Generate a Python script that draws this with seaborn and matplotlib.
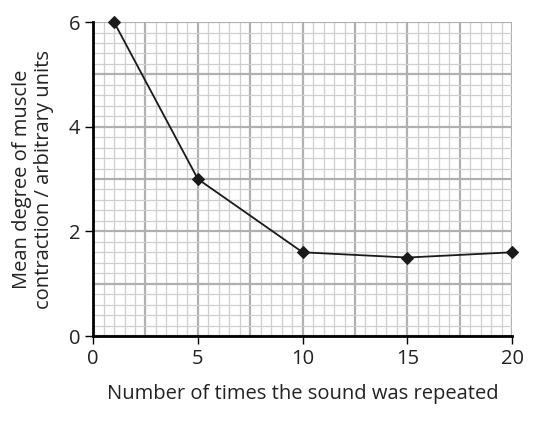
import matplotlib
matplotlib.use("Agg")
import matplotlib.pyplot as plt
import numpy as np
import pandas as pd
import seaborn as sns
from matplotlib.ticker import MultipleLocator

# Data
repeats = [1, 5, 10, 15, 20]
contraction = [6.0, 3.0, 1.6, 1.5, 1.6]
x_ticks = [0, 5, 10, 15, 20]
y_ticks = [0, 2, 4, 6]

df = pd.DataFrame({"repeats": repeats, "contraction": contraction})

sns.set_theme(style="white")
plt.rcParams["font.family"] = ["Open Sans", "DejaVu Sans"]

fig = plt.figure(figsize=(5.38, 4.24), dpi=100)
ax = fig.add_axes([0.173, 0.2075, 0.779, 0.7405])

# Graph-paper grid
for v in np.arange(0, 20.01, 0.5):
    major = abs(v / 2.5 - round(v / 2.5)) < 1e-6
    ax.axvline(v, color="#b0b0b0" if major else "#cfcfcf",
               lw=1.6 if major else 0.9, zorder=0)
for v in np.arange(0, 6.01, 0.2):
    major = abs(v - round(v)) < 1e-6
    ax.axhline(v, color="#b0b0b0" if major else "#cfcfcf",
               lw=1.6 if major else 0.9, zorder=0)

sns.lineplot(data=df, x="repeats", y="contraction", ax=ax, color="#1a1a1a",
             lw=1.3, marker="D", markersize=6.5, markeredgecolor="#1a1a1a",
             zorder=3, clip_on=False)

ax.set_xlim(0, 20)
ax.set_ylim(0, 6)
ax.set_xticks(x_ticks)
ax.set_yticks(y_ticks)
ax.tick_params(which="major", direction="out", length=6, width=1, color="black",
               labelsize=14.5, pad=3, bottom=True, left=True, labelcolor="#222222")

for side in ["top", "right"]:
    ax.spines[side].set_visible(False)
for side in ["left", "bottom"]:
    ax.spines[side].set_color("black")
    ax.spines[side].set_linewidth(2)
    ax.spines[side].set_zorder(4)

ax.set_xlabel("Number of times the sound was repeated", fontsize=14.5,
              labelpad=11, color="#222222")
ax.set_ylabel("Mean degree of muscle\ncontraction / arbitrary units",
              fontsize=14.5, labelpad=11, linespacing=1.1, color="#222222")

plt.savefig("out.png", dpi=100)
plt.close()
